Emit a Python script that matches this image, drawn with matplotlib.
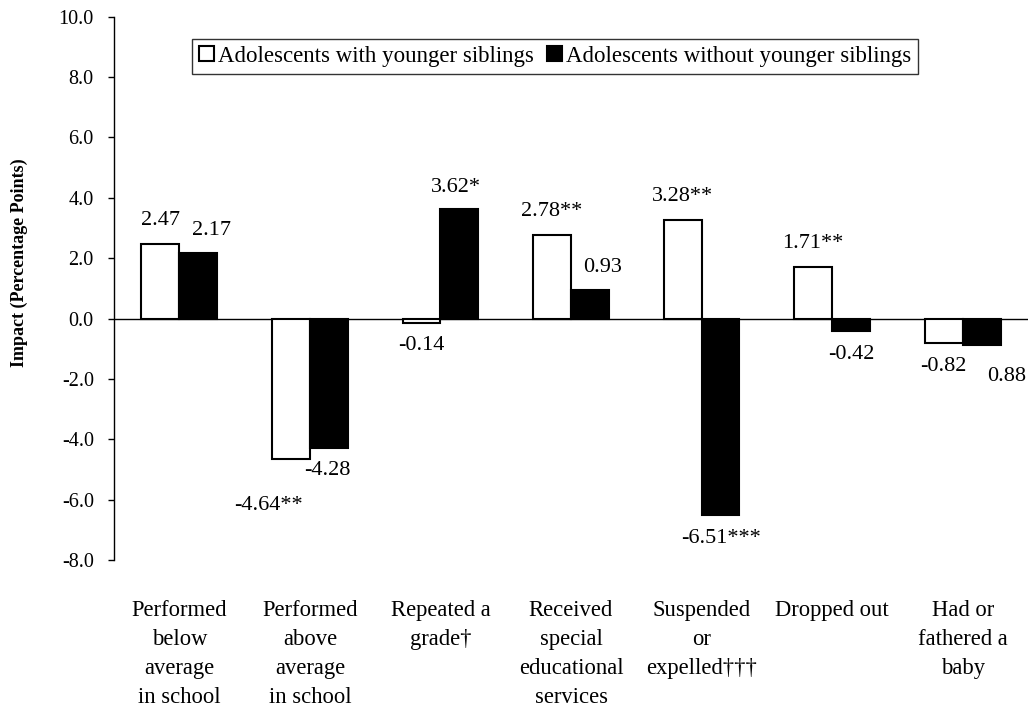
import matplotlib
matplotlib.use("Agg")
import matplotlib.pyplot as plt
import numpy as np

plt.rcParams['font.family'] = ['Liberation Serif', 'DejaVu Serif']
plt.rcParams['axes.unicode_minus'] = False

categories = [
    "Performed\nbelow\naverage\nin school",
    "Performed\nabove\naverage\nin school",
    "Repeated a\ngrade\u2020",
    "Received\nspecial\neducational\nservices",
    "Suspended\nor\nexpelled\u2020\u2020\u2020",
    "Dropped out",
    "Had or\nfathered a\nbaby",
]
series_names = ["Adolescents with younger siblings",
                "Adolescents without younger siblings"]
with_siblings = [2.47, -4.64, -0.14, 2.78, 3.28, 1.71, -0.82]
without_siblings = [2.17, -4.28, 3.62, 0.93, -6.51, -0.42, -0.88]
with_labels = ["2.47", "-4.64**", "-0.14", "2.78**", "3.28**", "1.71**", "-0.82"]
without_labels = ["2.17", "-4.28", "3.62*", "0.93", "-6.51***", "-0.42", "0.88"]
y_ticks = [-8, -6, -4, -2, 0, 2, 4, 6, 8, 10]

# extra nudges (pixels) for value labels that sit off-centre: (sideways, further out)
with_nudge = [(0, 0), (-22, 24), (0, 0), (0, 0), (0, 0), (0, 0), (0, 0)]
without_nudge = [(13, 0), (-1, 0), (-3, -1), (13, 0), (0, 0), (0, 0), (25, 8)]

fig = plt.figure(figsize=(10.3, 7.14), dpi=100)
ax = fig.add_axes([114 / 1030, 1 - 560 / 714, 914 / 1030, 543.3 / 714])

x = np.arange(len(categories))
w = 0.29
bars_w = ax.bar(x - w / 2, with_siblings, w, color="white", edgecolor="black",
                linewidth=1.5, label=series_names[0], zorder=3)
bars_b = ax.bar(x + w / 2, without_siblings, w, color="black", edgecolor="black",
                linewidth=1.5, label=series_names[1], zorder=3)

ax.axhline(0, color="black", linewidth=1.0, zorder=2)

for bars, vals, labs, nudges in ((bars_w, with_siblings, with_labels, with_nudge),
                                 (bars_b, without_siblings, without_labels, without_nudge)):
    for b, v, t, (nx, ny) in zip(bars, vals, labs, nudges):
        sign = 1 if v >= 0 else -1
        ax.annotate(t, (b.get_x() + b.get_width() / 2, v),
                    xytext=(nx, sign * (23 + ny)),
                    textcoords="offset pixels", ha="center", va="center",
                    fontsize=16)

ax.set_xlim(-0.5, 6.5)
ax.set_ylim(-8, 10)
ax.set_yticks(y_ticks)
ax.set_yticklabels([f"{t:.1f}" for t in y_ticks])
ax.set_xticks(x)
ax.set_xticklabels(categories, fontsize=16.3, va="top")
for lab in ax.get_xticklabels():
    lab.set_linespacing(1.5)
ax.tick_params(axis="x", length=0, pad=29)
ax.tick_params(axis="y", direction="out", length=4.5, width=1, labelsize=14.5, pad=10)

for s in ("top", "right", "bottom"):
    ax.spines[s].set_visible(False)
ax.spines["left"].set_linewidth(1.0)

fig.text(19 / 1030, 1 - 263 / 714, "Impact (Percentage Points)", rotation=90,
         ha="center", va="center", fontsize=13, fontweight="bold")

leg = ax.legend(loc="upper left", bbox_to_anchor=(192 / 1030, 1 - 39 / 714),
                bbox_transform=fig.transFigure, ncol=2, fontsize=16.5,
                frameon=True, fancybox=False, edgecolor="black",
                handlelength=0.65, handleheight=0.65, handletextpad=0.2,
                columnspacing=0.55, borderpad=0.3, borderaxespad=0)
leg.get_frame().set_linewidth(1.0)

fig.savefig("out.png", dpi=100)
